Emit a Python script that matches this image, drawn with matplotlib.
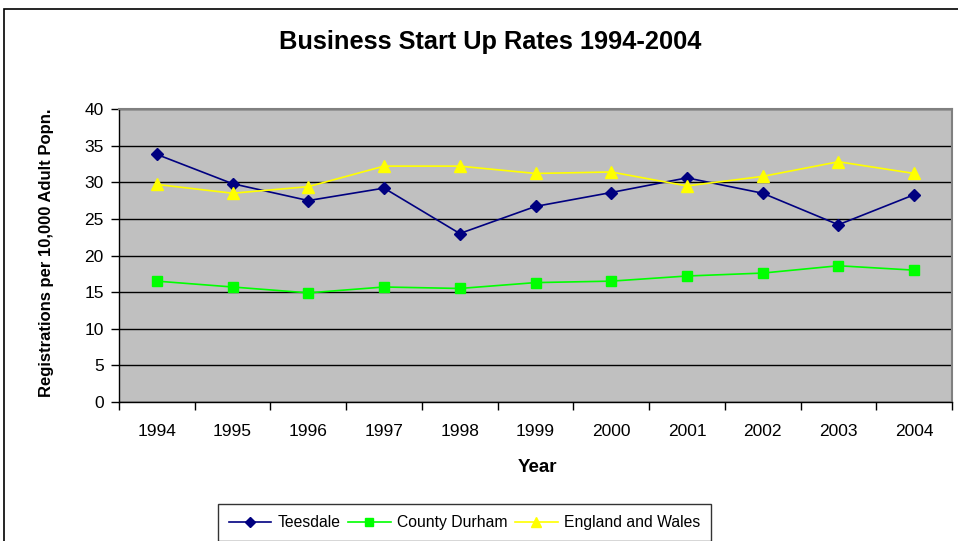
import matplotlib
matplotlib.use("Agg")
import matplotlib.pyplot as plt
from matplotlib.patches import Rectangle
from matplotlib.ticker import FixedLocator

years = ["1994", "1995", "1996", "1997", "1998", "1999", "2000", "2001", "2002", "2003", "2004"]
teesdale = [33.8, 29.8, 27.5, 29.2, 23.0, 26.7, 28.6, 30.6, 28.5, 24.2, 28.3]
county_durham = [16.5, 15.7, 14.9, 15.7, 15.5, 16.3, 16.5, 17.2, 17.6, 18.6, 18.0]
england_wales = [29.7, 28.5, 29.4, 32.2, 32.2, 31.2, 31.4, 29.5, 30.8, 32.8, 31.2]
y_ticks = [0, 5, 10, 15, 20, 25, 30, 35, 40]

plt.rcParams['font.family'] = ['Liberation Sans', 'DejaVu Sans']

W, H = 958, 541
fig = plt.figure(figsize=(W / 100, H / 100), dpi=100)

# outer chart frame
fig.patches.append(Rectangle((4 / W, -0.05), 1.1, (H - 9) / H + 0.05,
                             transform=fig.transFigure, fill=False,
                             edgecolor='black', linewidth=1.2))

left, right, top, bottom = 119, 952, 109, 402
ax = fig.add_axes([left / W, 1 - bottom / H, (right - left) / W, (bottom - top) / H])
ax.set_facecolor('#C0C0C0')

xs = [i + 0.5 for i in range(len(years))]
ax.plot(xs, teesdale, color='#000080', marker='D', markersize=6.5, linewidth=1.2, label='Teesdale')
ax.plot(xs, county_durham, color='#00FF00', marker='s', markersize=7, linewidth=1.2, label='County Durham')
ax.plot(xs, england_wales, color='#FFFF00', marker='^', markersize=8.5, linewidth=1.2, label='England and Wales')

ax.set_xlim(0, len(years))
ax.set_ylim(0, 40)
ax.set_yticks(y_ticks)
ax.yaxis.grid(True, color='black', linewidth=1)
ax.set_axisbelow(True)

ax.xaxis.set_major_locator(FixedLocator(range(len(years) + 1)))
ax.xaxis.set_minor_locator(FixedLocator(xs))
ax.set_xticklabels([], minor=False)
ax.set_xticklabels(years, minor=True)
ax.tick_params(axis='x', which='major', length=6, width=1, color='black')
ax.tick_params(axis='x', which='minor', length=0, pad=16, labelsize=12.5)
ax.tick_params(axis='y', length=6, width=1, labelsize=12.5, pad=5)

for s in ['top', 'right']:
    ax.spines[s].set_color('#808080')
    ax.spines[s].set_linewidth(1.5)
for s in ['left', 'bottom']:
    ax.spines[s].set_color('black')
    ax.spines[s].set_linewidth(1)

fig.text(490 / W, 1 - 42 / H, 'Business Start Up Rates 1994-2004', ha='center', va='center',
         fontsize=18.3, fontweight='bold')
fig.text(537 / W, 1 - 468 / H, 'Year', ha='center', va='center', fontsize=13.5, fontweight='bold')
fig.text(47 / W, 1 - 253 / H, 'Registrations per 10,000 Adult Popn.', ha='center', va='center',
         rotation=90, fontsize=12, fontweight='bold')

leg = fig.legend(loc='center', bbox_to_anchor=(464.5 / W, 1 - 522.5 / H), ncol=3,
                 frameon=True, fancybox=False, edgecolor='black', fontsize=11.3,
                 handlelength=2.7, handletextpad=0.4, columnspacing=0.5,
                 borderpad=0.7, markerscale=0.85)
leg.get_frame().set_linewidth(1)

fig.savefig('out.png', dpi=100)
